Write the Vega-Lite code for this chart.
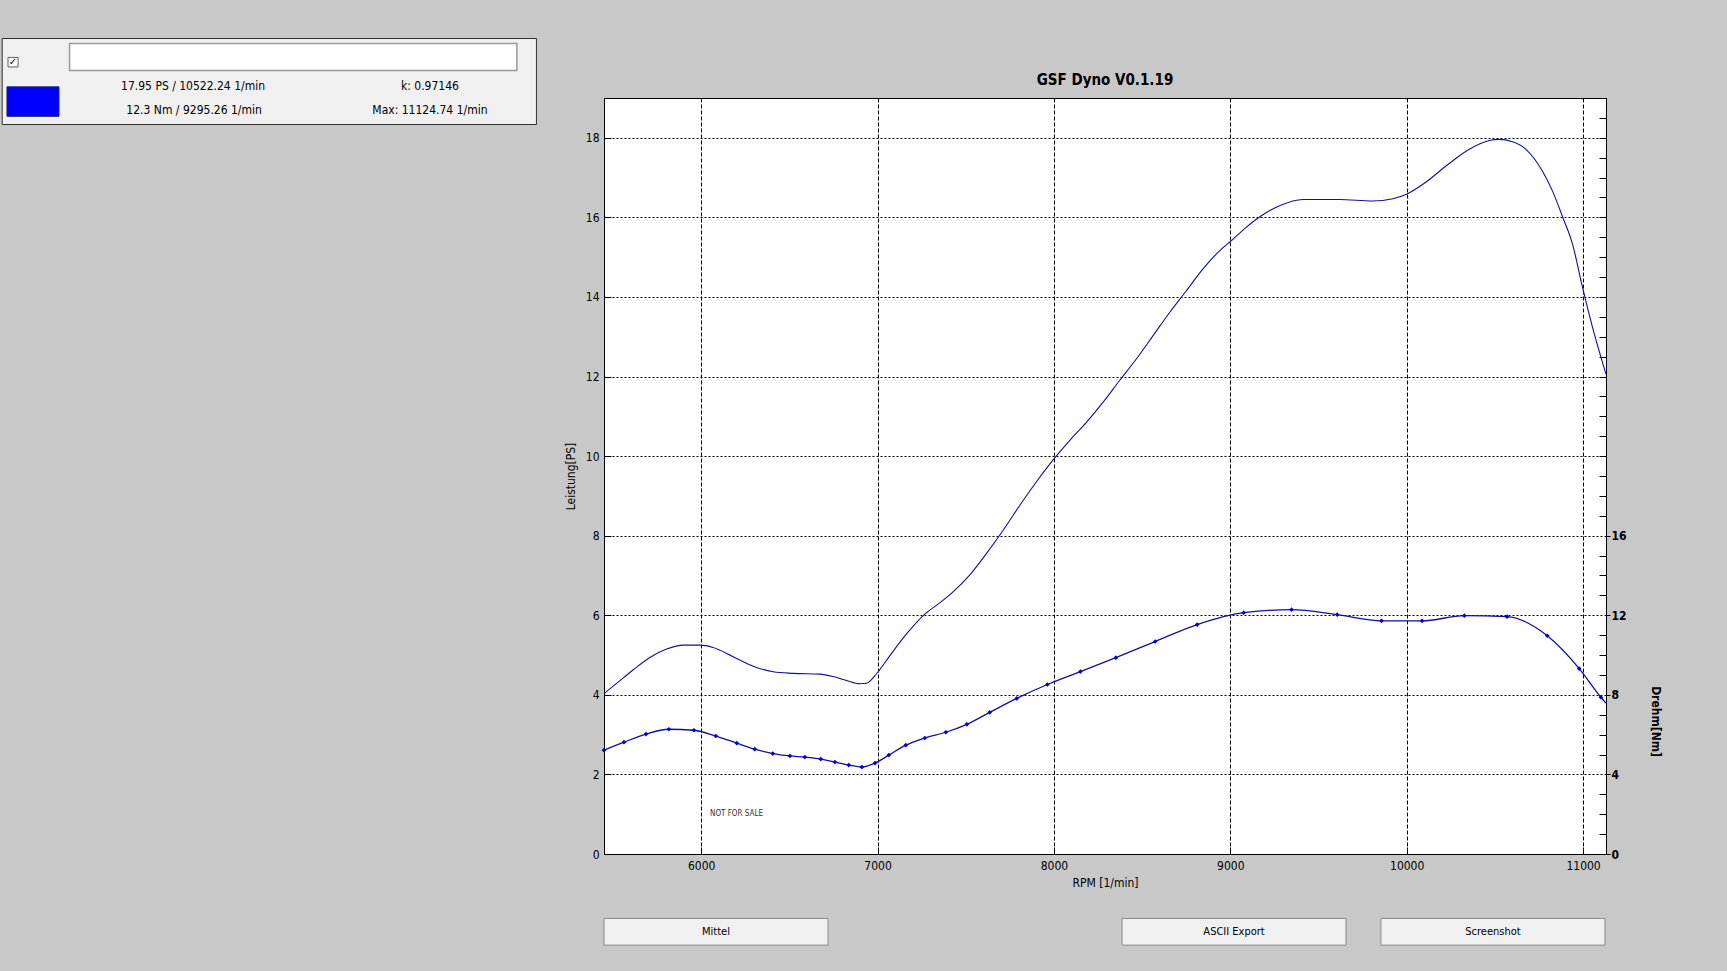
{
  "$schema": "https://vega.github.io/schema/vega-lite/v6.json",
  "autosize": "none",
  "width": 1002,
  "height": 756,
  "padding": {"left": 604, "top": 98, "right": 121, "bottom": 117},
  "background": "#c8c8c8",
  "config": {
    "font": "Liberation Sans Narrow, DejaVu Sans Condensed, Liberation Sans, sans-serif",
    "view": {"stroke": "black", "strokeWidth": 1, "fill": "white"}
  },
  "title": {"text": "GSF Dyno V0.1.19", "fontSize": 15, "fontWeight": "bold", "color": "black", "offset": -50, "anchor": "middle", "frame": "group"},
  "datasets": {
    "power": [
      {"rpm": 5449, "ps": 4.03}, {"rpm": 5562, "ps": 4.44}, {"rpm": 5615, "ps": 4.63}, {"rpm": 5709, "ps": 4.94},
      {"rpm": 5804, "ps": 5.15}, {"rpm": 5898, "ps": 5.25}, {"rpm": 5993, "ps": 5.25}, {"rpm": 6068, "ps": 5.19},
      {"rpm": 6181, "ps": 4.96}, {"rpm": 6295, "ps": 4.72}, {"rpm": 6408, "ps": 4.58}, {"rpm": 6521, "ps": 4.54},
      {"rpm": 6673, "ps": 4.52}, {"rpm": 6748, "ps": 4.46}, {"rpm": 6824, "ps": 4.36}, {"rpm": 6899, "ps": 4.28},
      {"rpm": 6937, "ps": 4.29}, {"rpm": 6994, "ps": 4.53}, {"rpm": 7069, "ps": 4.98}, {"rpm": 7164, "ps": 5.53},
      {"rpm": 7268, "ps": 6.03}, {"rpm": 7352, "ps": 6.31}, {"rpm": 7428, "ps": 6.59}, {"rpm": 7522, "ps": 7.01},
      {"rpm": 7617, "ps": 7.55}, {"rpm": 7711, "ps": 8.13}, {"rpm": 7806, "ps": 8.76}, {"rpm": 7900, "ps": 9.35},
      {"rpm": 8000, "ps": 9.93}, {"rpm": 8089, "ps": 10.39}, {"rpm": 8184, "ps": 10.85}, {"rpm": 8278, "ps": 11.35},
      {"rpm": 8372, "ps": 11.9}, {"rpm": 8467, "ps": 12.44}, {"rpm": 8561, "ps": 13.02}, {"rpm": 8656, "ps": 13.61},
      {"rpm": 8750, "ps": 14.15}, {"rpm": 8844, "ps": 14.7}, {"rpm": 8939, "ps": 15.16}, {"rpm": 9005, "ps": 15.41},
      {"rpm": 9090, "ps": 15.75}, {"rpm": 9165, "ps": 16.01}, {"rpm": 9279, "ps": 16.29}, {"rpm": 9411, "ps": 16.45},
      {"rpm": 9619, "ps": 16.45}, {"rpm": 9807, "ps": 16.41}, {"rpm": 9921, "ps": 16.47}, {"rpm": 10002, "ps": 16.59},
      {"rpm": 10110, "ps": 16.89}, {"rpm": 10223, "ps": 17.29}, {"rpm": 10355, "ps": 17.71}, {"rpm": 10468, "ps": 17.93},
      {"rpm": 10525, "ps": 17.96}, {"rpm": 10600, "ps": 17.9}, {"rpm": 10676, "ps": 17.71}, {"rpm": 10770, "ps": 17.16},
      {"rpm": 10827, "ps": 16.66}, {"rpm": 10884, "ps": 16.01}, {"rpm": 10940, "ps": 15.33}, {"rpm": 10997, "ps": 14.24},
      {"rpm": 11054, "ps": 13.23}, {"rpm": 11130, "ps": 12.06}
    ],
    "torque": [
      {"rpm": 5449, "nm": 5.22}, {"rpm": 5562, "nm": 5.62}, {"rpm": 5687, "nm": 6.03}, {"rpm": 5817, "nm": 6.27},
      {"rpm": 5959, "nm": 6.22}, {"rpm": 6083, "nm": 5.93}, {"rpm": 6202, "nm": 5.57}, {"rpm": 6304, "nm": 5.27},
      {"rpm": 6406, "nm": 5.05}, {"rpm": 6503, "nm": 4.93}, {"rpm": 6588, "nm": 4.87}, {"rpm": 6678, "nm": 4.77},
      {"rpm": 6758, "nm": 4.62}, {"rpm": 6837, "nm": 4.47}, {"rpm": 6911, "nm": 4.37}, {"rpm": 6986, "nm": 4.57},
      {"rpm": 7064, "nm": 4.97}, {"rpm": 7160, "nm": 5.47}, {"rpm": 7268, "nm": 5.83}, {"rpm": 7387, "nm": 6.12},
      {"rpm": 7506, "nm": 6.52}, {"rpm": 7636, "nm": 7.12}, {"rpm": 7789, "nm": 7.82}, {"rpm": 7963, "nm": 8.52},
      {"rpm": 8150, "nm": 9.17}, {"rpm": 8351, "nm": 9.87}, {"rpm": 8574, "nm": 10.68}, {"rpm": 8812, "nm": 11.53},
      {"rpm": 9076, "nm": 12.13}, {"rpm": 9347, "nm": 12.28}, {"rpm": 9606, "nm": 12.03}, {"rpm": 9857, "nm": 11.72},
      {"rpm": 10087, "nm": 11.72}, {"rpm": 10327, "nm": 11.98}, {"rpm": 10569, "nm": 11.93}, {"rpm": 10797, "nm": 10.97},
      {"rpm": 10978, "nm": 9.32}, {"rpm": 11101, "nm": 7.88}, {"rpm": 11130, "nm": 7.58}
    ]
  },
  "layer": [
    {
      "layer": [
        {
          "data": {"name": "power"},
          "mark": {"type": "line", "color": "#10109c", "strokeWidth": 1.1, "interpolate": "monotone"},
          "encoding": {
            "x": {
              "field": "rpm", "type": "quantitative",
              "scale": {"domain": [5449, 11130], "nice": false, "zero": false},
              "axis": {
                "title": "RPM [1/min]", "values": [6000, 7000, 8000, 9000, 10000, 11000], "format": "d",
                "grid": true, "gridColor": "black", "gridDash": [4, 2], "gridOpacity": 1,
                "tickSize": -7, "tickColor": "black", "domainColor": "black",
                "labelFontSize": 12, "labelColor": "black", "labelPadding": 13,
                "titleFontSize": 12, "titleFontWeight": "normal", "titleColor": "black", "titlePadding": 6
              }
            },
            "y": {
              "field": "ps", "type": "quantitative",
              "scale": {"domain": [0, 19], "nice": false, "zero": false},
              "axis": {
                "title": "Leistung[PS]",
                "values": [0, 0.5, 1, 1.5, 2, 2.5, 3, 3.5, 4, 4.5, 5, 5.5, 6, 6.5, 7, 7.5, 8, 8.5, 9, 9.5, 10, 10.5, 11, 11.5, 12, 12.5, 13, 13.5, 14, 14.5, 15, 15.5, 16, 16.5, 17, 17.5, 18, 18.5, 19],
                "format": "d",
                "labelExpr": "datum.value % 2 === 0 ? datum.label : ''",
                "grid": true, "gridColor": "black", "gridDash": [2, 2],
                "gridOpacity": {"condition": {"test": "datum.value % 2 !== 0 || datum.value === 0", "value": 0}, "value": 1},
                "tickSize": -7, "tickColor": "black", "domainColor": "black",
                "labelFontSize": 12, "labelColor": "black", "labelPadding": 12,
                "titleFontSize": 12, "titleFontWeight": "normal", "titleColor": "black", "titlePadding": 8
              }
            }
          }
        },
        {
          "data": {"values": [{"label": "NOT FOR SALE"}]},
          "mark": {"type": "text", "align": "left", "baseline": "middle", "fontSize": 8, "color": "#333333"},
          "encoding": {
            "x": {"datum": 6050, "type": "quantitative", "scale": {"domain": [5449, 11130], "nice": false, "zero": false}},
            "y": {"datum": 1.0, "type": "quantitative", "scale": {"domain": [0, 19], "nice": false, "zero": false}},
            "text": {"field": "label"}
          }
        },
        {
          "data": {"values": [{}]},
          "mark": {"type": "rect", "fill": "#f0f0f0", "stroke": "#303030", "strokeWidth": 1},
          "encoding": {
            "x": {"datum": 2037, "type": "quantitative", "scale": {"domain": [5449, 11130], "nice": false, "zero": false}},
            "x2": {"datum": 5066},
            "y": {"datum": 20.495, "type": "quantitative", "scale": {"domain": [0, 19], "nice": false, "zero": false}},
            "y2": {"datum": 18.334}
          }
        },
        {
          "data": {"values": [{}]},
          "mark": {"type": "rect", "fill": "white", "stroke": "#9a9a9a", "strokeWidth": 1.5},
          "encoding": {
            "x": {"datum": 2419, "type": "quantitative", "scale": {"domain": [5449, 11130], "nice": false, "zero": false}},
            "x2": {"datum": 4955},
            "y": {"datum": 20.37, "type": "quantitative", "scale": {"domain": [0, 19], "nice": false, "zero": false}},
            "y2": {"datum": 19.69}
          }
        },
        {
          "data": {"values": [{}]},
          "mark": {"type": "rect", "fill": "white", "stroke": "#606060", "strokeWidth": 1},
          "encoding": {
            "x": {"datum": 2070, "type": "quantitative", "scale": {"domain": [5449, 11130], "nice": false, "zero": false}},
            "x2": {"datum": 2127},
            "y": {"datum": 20.02, "type": "quantitative", "scale": {"domain": [0, 19], "nice": false, "zero": false}},
            "y2": {"datum": 19.78}
          }
        },
        {
          "data": {"values": [{"label": "✓"}]},
          "mark": {"type": "text", "align": "center", "baseline": "middle", "fontSize": 10, "fontWeight": "bold", "color": "black", "font": "DejaVu Sans"},
          "encoding": {
            "x": {"datum": 2098, "type": "quantitative", "scale": {"domain": [5449, 11130], "nice": false, "zero": false}},
            "y": {"datum": 19.9, "type": "quantitative", "scale": {"domain": [0, 19], "nice": false, "zero": false}},
            "text": {"field": "label"}
          }
        },
        {
          "data": {"values": [{}]},
          "mark": {"type": "rect", "fill": "#0000ff", "stroke": "#202060", "strokeWidth": 1},
          "encoding": {
            "x": {"datum": 2064, "type": "quantitative", "scale": {"domain": [5449, 11130], "nice": false, "zero": false}},
            "x2": {"datum": 2359},
            "y": {"datum": 19.28, "type": "quantitative", "scale": {"domain": [0, 19], "nice": false, "zero": false}},
            "y2": {"datum": 18.54}
          }
        },
        {
          "data": {"values": [{"label": "17.95 PS / 10522.24 1/min"}]},
          "mark": {"type": "text", "align": "center", "baseline": "middle", "fontSize": 12, "color": "black"},
          "encoding": {
            "x": {"datum": 3119, "type": "quantitative", "scale": {"domain": [5449, 11130], "nice": false, "zero": false}},
            "y": {"datum": 19.3, "type": "quantitative", "scale": {"domain": [0, 19], "nice": false, "zero": false}},
            "text": {"field": "label"}
          }
        },
        {
          "data": {"values": [{"label": "12.3 Nm / 9295.26 1/min"}]},
          "mark": {"type": "text", "align": "center", "baseline": "middle", "fontSize": 12, "color": "black"},
          "encoding": {
            "x": {"datum": 3125, "type": "quantitative", "scale": {"domain": [5449, 11130], "nice": false, "zero": false}},
            "y": {"datum": 18.7, "type": "quantitative", "scale": {"domain": [0, 19], "nice": false, "zero": false}},
            "text": {"field": "label"}
          }
        },
        {
          "data": {"values": [{"label": "k: 0.97146"}]},
          "mark": {"type": "text", "align": "center", "baseline": "middle", "fontSize": 12, "color": "black"},
          "encoding": {
            "x": {"datum": 4462, "type": "quantitative", "scale": {"domain": [5449, 11130], "nice": false, "zero": false}},
            "y": {"datum": 19.3, "type": "quantitative", "scale": {"domain": [0, 19], "nice": false, "zero": false}},
            "text": {"field": "label"}
          }
        },
        {
          "data": {"values": [{"label": "Max: 11124.74 1/min"}]},
          "mark": {"type": "text", "align": "center", "baseline": "middle", "fontSize": 12, "color": "black"},
          "encoding": {
            "x": {"datum": 4462, "type": "quantitative", "scale": {"domain": [5449, 11130], "nice": false, "zero": false}},
            "y": {"datum": 18.7, "type": "quantitative", "scale": {"domain": [0, 19], "nice": false, "zero": false}},
            "text": {"field": "label"}
          }
        },
        {
          "data": {"values": [
            {"button": "Mittel", "from": 5449, "to": 6719, "mid": 6084},
            {"button": "ASCII Export", "from": 8386, "to": 9656, "mid": 9021},
            {"button": "Screenshot", "from": 9854, "to": 11124, "mid": 10489}
          ]},
          "layer": [
            {
              "mark": {"type": "rect", "fill": "#f0f0f0", "stroke": "#8c8c8c", "strokeWidth": 1},
              "encoding": {
                "x": {"field": "from", "type": "quantitative", "scale": {"domain": [5449, 11130], "nice": false, "zero": false}},
                "x2": {"field": "to"},
                "y": {"datum": -1.62, "type": "quantitative", "scale": {"domain": [0, 19], "nice": false, "zero": false}},
                "y2": {"datum": -2.29}
              }
            },
            {
              "mark": {"type": "text", "align": "center", "baseline": "middle", "fontSize": 11, "color": "black"},
              "encoding": {
                "x": {"field": "mid", "type": "quantitative", "scale": {"domain": [5449, 11130], "nice": false, "zero": false}},
                "y": {"datum": -1.96, "type": "quantitative", "scale": {"domain": [0, 19], "nice": false, "zero": false}},
                "text": {"field": "button"}
              }
            }
          ]
        }
      ]
    },
    {
      "data": {"name": "torque"},
      "encoding": {
        "x": {"field": "rpm", "type": "quantitative", "scale": {"domain": [5449, 11130], "nice": false, "zero": false}},
        "y": {
          "field": "nm", "type": "quantitative",
          "scale": {"domain": [0, 38], "nice": false, "zero": false},
          "axis": {
            "orient": "right", "title": "Drehm[Nm]",
            "values": [0, 1, 2, 3, 4, 5, 6, 7, 8, 9, 10, 11, 12, 13, 14, 15, 16, 17, 18, 19, 20, 21, 22, 23, 24, 25, 26, 27, 28, 29, 30, 31, 32, 33, 34, 35, 36, 37, 38],
            "format": "d",
            "labelExpr": "datum.value % 4 === 0 && datum.value <= 16 ? datum.label : ''",
            "grid": false,
            "tickSize": {"condition": {"test": "datum.value % 4 === 0 && datum.value <= 16", "value": 4}, "value": -7},
            "tickColor": "black", "domainColor": "black",
            "labelFontSize": 12, "labelFontWeight": "bold", "labelColor": "black", "labelPadding": 1,
            "titleFontSize": 12, "titleFontWeight": "bold", "titleColor": "black", "titlePadding": 22,
            "titleAngle": 90, "titleY": 623
          }
        }
      },
      "layer": [
        {"mark": {"type": "line", "color": "#10109c", "strokeWidth": 1.3, "interpolate": "monotone"}},
        {
          "transform": [{"filter": "datum.rpm < 11120"}],
          "mark": {"type": "point", "filled": true, "shape": "diamond", "size": 22, "color": "#0000d8", "opacity": 1}
        }
      ]
    }
  ],
  "resolve": {"scale": {"y": "independent"}}
}
